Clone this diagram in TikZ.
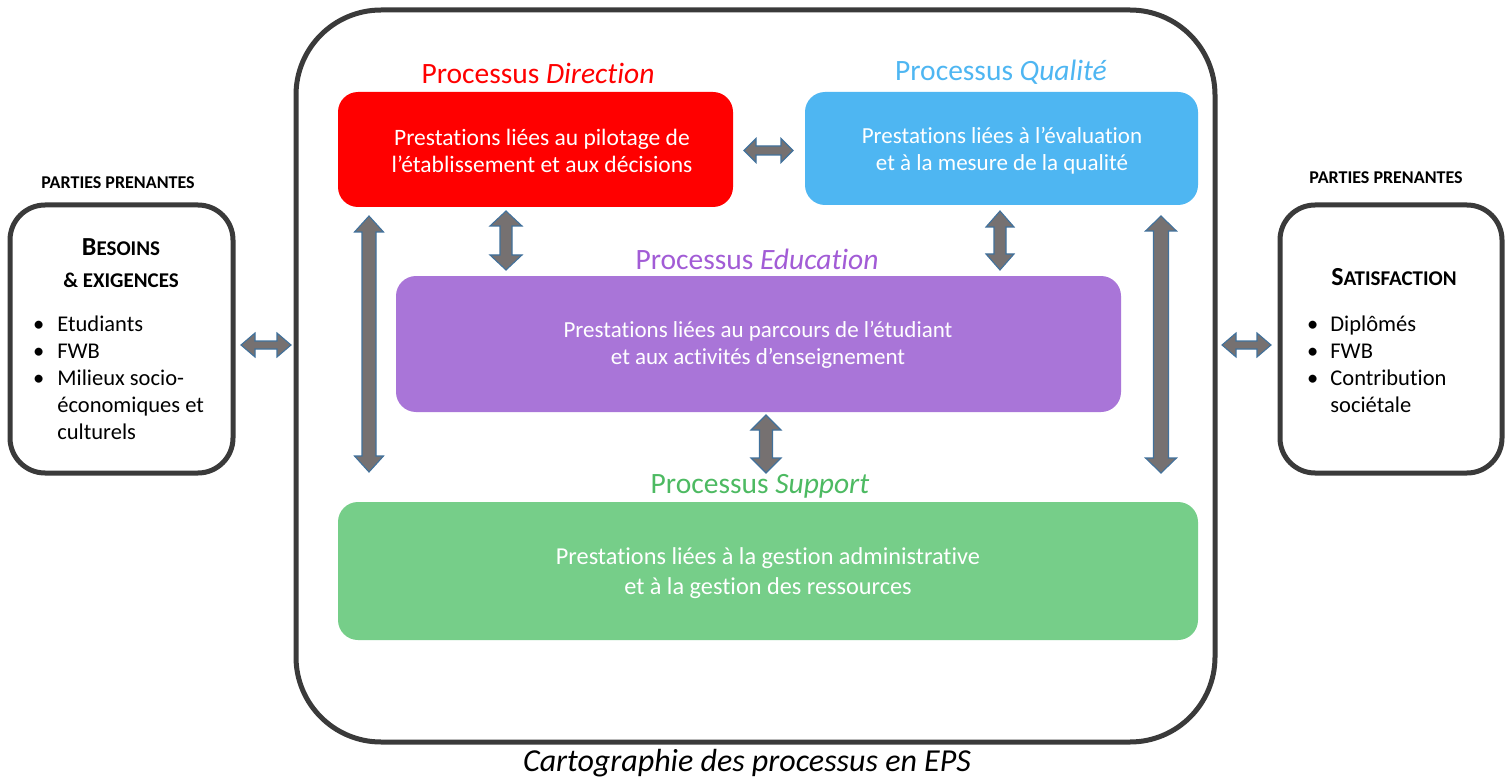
\documentclass[tikz,border=0pt]{standalone}
\usepackage{fontspec}
\setmainfont{Carlito}[Ligatures=CommonOff]
\definecolor{framec}{HTML}{3A3A3A}
\definecolor{dirc}{HTML}{FF0000}
\definecolor{qualc}{HTML}{4EB6F2}
\definecolor{educ}{HTML}{A975D8}
\definecolor{eductxt}{HTML}{A25CD6}
\definecolor{supc}{HTML}{76CE89}
\definecolor{suptxt}{HTML}{4DBA62}
\definecolor{arrfill}{HTML}{767171}
\definecolor{arrline}{HTML}{41719C}
\tikzset{
  frame/.style={draw=framec, line width=5pt, fill=white},
  procbox/.style={rounded corners=20pt, inner sep=0pt},
  boxtxt/.style={inner sep=0pt, text=white, align=center},
  proctitle/.style={font=\fontsize{29.5}{34}\selectfont, inner sep=0pt},
  blockarrow/.style={draw=arrline, fill=arrfill, line width=1.1pt, line join=miter},
  sidehead/.style={font=\fontsize{18}{22}\selectfont\bfseries, inner sep=0pt},
  listtxt/.style={font=\fontsize{22.5}{27}\selectfont, inner sep=0pt, anchor=north west},
}
% horizontal block arrow: x1, x2, y, shaft half, head half, head length
\newcommand{\hbarr}[6]{%
  \draw[blockarrow] (#1,#3) -- (#1+#6,#3-#5) -- (#1+#6,#3-#4) -- (#2-#6,#3-#4)
    -- (#2-#6,#3-#5) -- (#2,#3) -- (#2-#6,#3+#5) -- (#2-#6,#3+#4)
    -- (#1+#6,#3+#4) -- (#1+#6,#3+#5) -- cycle;}
% vertical block arrow: y1, y2, x, shaft half, head half, head length
\newcommand{\vbarr}[6]{%
  \draw[blockarrow] (#3,#1) -- (#3+#5,#1+#6) -- (#3+#4,#1+#6) -- (#3+#4,#2-#6)
    -- (#3+#5,#2-#6) -- (#3,#2) -- (#3-#5,#2-#6) -- (#3-#4,#2-#6)
    -- (#3-#4,#1+#6) -- (#3-#5,#1+#6) -- cycle;}
\begin{document}
\begin{tikzpicture}[x=1pt,y=-1pt]
\useasboundingbox (0,0) rectangle (1505,778);

% outer frame
\node[frame, rounded corners=85pt, minimum width=919pt, minimum height=732pt] (main) at (755.5,376) {};

% side boxes
\node[frame, rounded corners=35pt, minimum width=223pt, minimum height=268pt] (left) at (121.5,339) {};
\node[frame, rounded corners=35pt, minimum width=222pt, minimum height=268pt] (right) at (1391,339) {};

\node[sidehead] (lhead) at (118,183) {PARTIES PRENANTES};
\node[sidehead] (rhead) at (1386,178) {PARTIES PRENANTES};

\node[inner sep=0pt, align=center, font=\fontsize{21}{32}\selectfont\bfseries] (ltitle) at (121,263)
  {{\fontsize{26}{32}\selectfont B}ESOINS\\ \&\ EXIGENCES};
\node[listtxt] (llist) at (33,312) {\begin{tabular}{@{}l@{\hspace{13pt}}l@{}}
  • & Etudiants\\ • & FWB\\ • & Milieux socio-\\ & économiques et\\ & culturels\end{tabular}};

\node[inner sep=0pt, font=\fontsize{21}{28}\selectfont\bfseries] (rtitle) at (1394,277)
  {{\fontsize{26}{28}\selectfont S}ATISFACTION};
\node[listtxt] (rlist) at (1307,312) {\begin{tabular}{@{}l@{\hspace{12pt}}l@{}}
  • & Diplômés\\ • & FWB\\ • & Contribution\\ & sociétale\end{tabular}};

% process boxes
\node[procbox, fill=dirc, minimum width=395pt, minimum height=115pt] (dir) at (535.5,149.5) {};
\node[procbox, fill=qualc, minimum width=393pt, minimum height=113pt] (qual) at (1001.5,148.5) {};
\node[procbox, fill=educ, minimum width=725pt, minimum height=136pt] (edu) at (758.5,344) {};
\node[procbox, fill=supc, minimum width=860pt, minimum height=138pt] (sup) at (768,571) {};

\node[boxtxt, font=\fontsize{23.5}{27}\selectfont] (tdirbox) at (542,151)
  {Prestations liées au pilotage de\\l’établissement et aux décisions};
\node[boxtxt, font=\fontsize{23}{27}\selectfont] (tqualbox) at (1002,151)
  {Prestations liées à l’évaluation\\et à la mesure de la qualité};
\node[boxtxt, font=\fontsize{23}{27}\selectfont] (tedubox) at (758,345)
  {Prestations liées au parcours de l’étudiant\\et aux activités d’enseignement};
\node[boxtxt, font=\fontsize{24.3}{30}\selectfont] (tsupbox) at (768,573)
  {Prestations liées à la gestion administrative\\et à la gestion des ressources};

% titles
\node[proctitle, text=dirc] (tdir) at (538,73) {Processus \textit{Direction}};
\node[proctitle, text=qualc] (tqual) at (1001,72) {Processus \textit{Qualité}};
\node[proctitle, text=eductxt] (tedu) at (757,259) {Processus \textit{Education}};
\node[proctitle, text=suptxt] (tsup) at (760,486) {Processus \textit{Support}};

% block arrows
\hbarr{744}{793}{150.5}{4.5}{12}{12}
\hbarr{241}{291}{345}{4}{12}{14}
\hbarr{1222}{1271}{345}{4}{12}{14}
\vbarr{216}{472}{369}{7}{14.5}{16}
\vbarr{216}{473}{1161}{7.5}{15.5}{15}
\vbarr{211}{270}{506}{6}{16}{15}
\vbarr{211}{270}{1000}{6}{14}{16}
\vbarr{415}{473}{766}{6.5}{15}{15}

% caption
\node[inner sep=0pt, font=\fontsize{32}{36}\selectfont\itshape] (cap) at (747,763)
  {Cartographie des processus en EPS};
\end{tikzpicture}
\end{document}
